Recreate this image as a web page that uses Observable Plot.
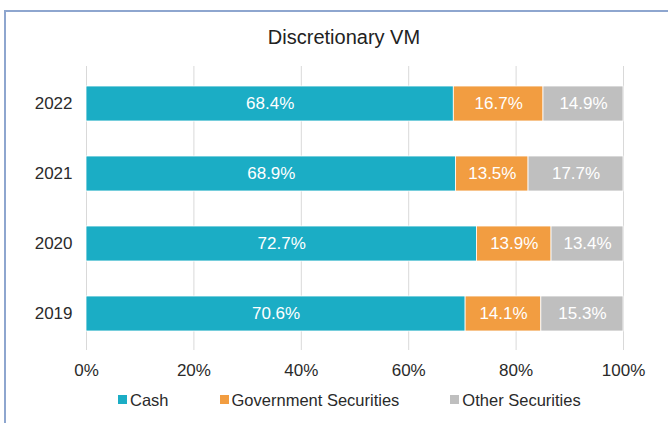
<!DOCTYPE html>
<html>
<head>
<meta charset="utf-8">
<script src="https://cdn.jsdelivr.net/npm/d3@7"></script>
<script src="https://cdn.jsdelivr.net/npm/@observablehq/plot@0.6"></script>
<style>
  html, body { margin: 0; padding: 0; background: #fff; }
  body { width: 668px; height: 423px; position: relative; overflow: hidden; font-family: "Liberation Sans", Arial, sans-serif; }
  #frame { position: absolute; left: 4px; top: 10px; width: 670px; height: 420px; border-top: 2px solid #8ea6cf; border-left: 2px solid #8ea6cf; box-sizing: border-box; }
  #title { position: absolute; top: 27px; left: 0; width: 688px; text-align: center; font-size: 20px; line-height: 20px; color: #222; }
  #chart { position: absolute; top: 50px; left: 0; }
  #legend { position: absolute; top: 392px; left: 118px; font-size: 16.5px; line-height: 17px; color: #2a2a2a; white-space: nowrap; }
  #legend .item { display: inline-block; margin-right: 51px; }
  #legend .sw { display: inline-block; width: 9px; height: 9px; margin-right: 3px; vertical-align: 2px; }
</style>
</head>
<body>
<div id="frame"></div>
<div id="title">Discretionary VM</div>
<div id="chart"></div>
<div id="legend"></div>
<script>
// Data
const years = ["2022", "2021", "2020", "2019"];
const categories = ["Cash", "Government Securities", "Other Securities"];
const colors = ["#1badc5", "#f29d41", "#bfbfbf"];
const cash = [68.4, 68.9, 72.7, 70.6];
const government = [16.7, 13.5, 13.9, 14.1];
const other = [14.9, 17.7, 13.4, 15.3];
const xTicks = [0, 0.2, 0.4, 0.6, 0.8, 1];

const series = [cash, government, other];
const rows = [];
years.forEach((y, i) => {
  categories.forEach((c, j) => {
    rows.push({ year: y, category: c, value: series[j][i] });
  });
});

const chart = Plot.plot({
  width: 668,
  height: 330,
  marginLeft: 86,
  marginRight: 45,
  marginTop: 16,
  marginBottom: 30,
  style: { fontFamily: "Liberation Sans, Arial, sans-serif", fontSize: "17px", color: "#2a2a2a", background: "transparent" },
  x: { domain: [0, 1] },
  y: { domain: years, paddingInner: 0.5, paddingOuter: 0.27 },
  color: { domain: categories, range: colors },
  marks: [
    Plot.gridX(xTicks, { stroke: "#d9d9d9", strokeOpacity: 1, strokeWidth: 1 }),
    Plot.barX(rows, Plot.stackX({
      x: "value", y: "year", fill: "category", offset: "normalize", order: null,
      stroke: "white", strokeWidth: 0.8
    })),
    Plot.text(rows, Plot.stackX({
      x: "value", y: "year", offset: "normalize", order: null,
      text: d => d.value.toFixed(1) + "%", fill: "white", fontSize: 17
    })),
    Plot.axisX(xTicks, { tickSize: 0, tickPadding: 13, tickFormat: d => Math.round(d * 100) + "%", label: null, fontSize: 17 }),
    Plot.axisY({ tickSize: 0, tickPadding: 14, label: null, fontSize: 17 })
  ]
});
document.getElementById("chart").appendChild(chart);

const legend = document.getElementById("legend");
categories.forEach((c, i) => {
  const item = document.createElement("span");
  item.className = "item";
  const sw = document.createElement("span");
  sw.className = "sw";
  sw.style.background = colors[i];
  item.appendChild(sw);
  item.appendChild(document.createTextNode(c));
  legend.appendChild(item);
});
</script>
</body>
</html>
